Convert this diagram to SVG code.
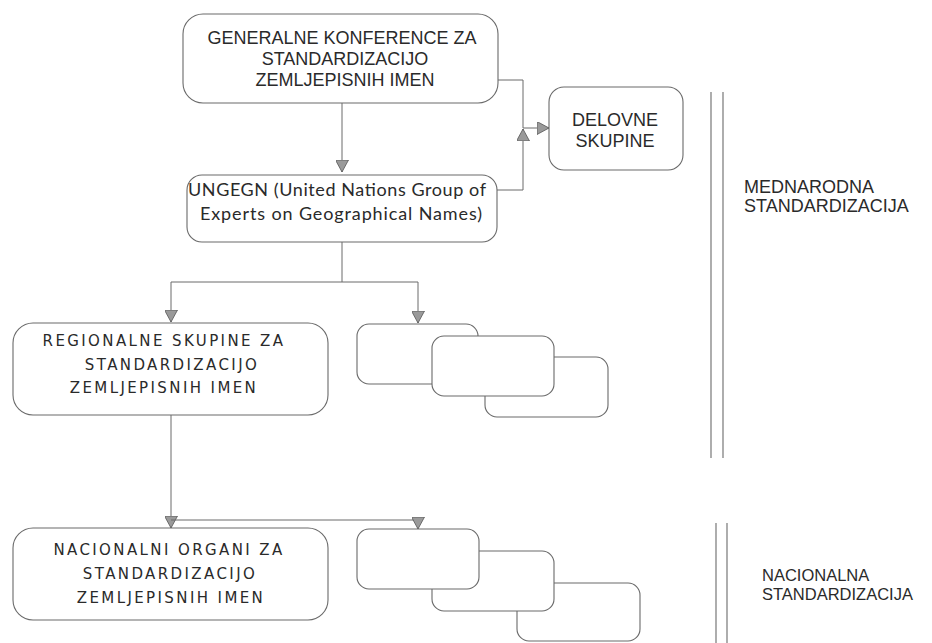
<svg xmlns="http://www.w3.org/2000/svg" width="932" height="643" viewBox="0 0 932 643">
<style>
.box{fill:#fff;stroke:#6a6a6a;stroke-width:1.1}
.ln{fill:none;stroke:#6a6a6a;stroke-width:1}
.sep{stroke:#777;stroke-width:1.2}
.t1{font-family:"Liberation Sans",Arial,sans-serif;font-size:18px;fill:#2a2a2a}
.t2{font-family:"DejaVu Sans",sans-serif;font-size:15px;fill:#2a2a2a;letter-spacing:2.4px;text-anchor:middle}
.t3{font-family:Lato,"DejaVu Sans",sans-serif;font-size:18px;fill:#2a2a2a}
.t4{font-family:"Liberation Sans",Arial,sans-serif;font-size:16.5px;fill:#2a2a2a}
</style>
<defs>
<marker id="arr" viewBox="0 0 12 13" refX="12" refY="6.5" markerWidth="12" markerHeight="13" markerUnits="userSpaceOnUse" orient="auto">
<path d="M0,0 L12,6.5 L0,13 z" fill="#9a9a9a" stroke="#555" stroke-width="0.8"/>
</marker>
</defs>
<rect width="932" height="643" fill="#fff"/>
<g id="connectors">
<path class="ln" d="M342,103 V172" marker-end="url(#arr)"/>
<path class="ln" d="M498,80 H523 V128 H549" marker-end="url(#arr)"/>
<path class="ln" d="M497,190 H523 V129" marker-end="url(#arr)"/>
<path class="ln" d="M342,241 V282 H171 V322" marker-end="url(#arr)"/>
<path class="ln" d="M342,282 H418 V323" marker-end="url(#arr)"/>
<path class="ln" d="M171,415 V528" marker-end="url(#arr)"/>
<path class="ln" d="M171,520 H418 V529" marker-end="url(#arr)"/>
</g>
<g id="generalne">
<rect class="box" x="183" y="14" width="315" height="89" rx="20"/>
<text class="t1" text-anchor="middle"><tspan x="342" y="44">GENERALNE KONFERENCE ZA</tspan><tspan x="345" y="65">STANDARDIZACIJO</tspan><tspan x="345" y="86">ZEMLJEPISNIH IMEN</tspan></text>
</g>
<g id="delovne">
<rect class="box" x="549" y="87" width="134" height="83" rx="15"/>
<text class="t1" text-anchor="middle"><tspan x="615" y="126">DELOVNE</tspan><tspan x="615" y="147">SKUPINE</tspan></text>
</g>
<g id="ungegn">
<rect class="box" x="187" y="175" width="310" height="67" rx="15"/>
<text class="t3"><tspan x="188" y="196" textLength="298" lengthAdjust="spacing">UNGEGN (United Nations Group of</tspan><tspan x="200" y="220" textLength="282" lengthAdjust="spacing">Experts on Geographical Names)</tspan></text>
</g>
<g id="regionalne">
<rect class="box" x="13" y="323" width="315" height="92" rx="20"/>
<text class="t2" x="164" y="346">REGIONALNE SKUPINE ZA</text>
<text class="t2" x="172" y="370">STANDARDIZACIJO</text>
<text class="t2" x="164" y="393">ZEMLJEPISNIH IMEN</text>
</g>
<g id="regional-stack">
<rect class="box" x="357" y="324" width="121" height="60" rx="12"/>
<rect class="box" x="485" y="357" width="123" height="60" rx="12"/>
<rect class="box" x="432" y="336" width="122" height="60" rx="12"/>
</g>
<g id="nacionalni">
<rect class="box" x="13" y="528" width="315" height="92" rx="20"/>
<text class="t2" x="169" y="555">NACIONALNI ORGANI ZA</text>
<text class="t2" x="170" y="579">STANDARDIZACIJO</text>
<text class="t2" x="171" y="603">ZEMLJEPISNIH IMEN</text>
</g>
<g id="national-stack">
<rect class="box" x="517" y="583" width="123" height="58" rx="12"/>
<rect class="box" x="432" y="551" width="122" height="60" rx="12"/>
<rect class="box" x="357" y="529" width="122" height="60" rx="12"/>
</g>
<g id="mednarodna">
<line class="sep" x1="711" y1="92" x2="711" y2="458"/>
<line class="sep" x1="723" y1="92" x2="723" y2="458"/>
<text class="t1"><tspan x="744" y="193">MEDNARODNA</tspan><tspan x="744" y="212">STANDARDIZACIJA</tspan></text>
</g>
<g id="nacionalna">
<line class="sep" x1="716" y1="523" x2="716" y2="643"/>
<line class="sep" x1="727" y1="523" x2="727" y2="643"/>
<text class="t4"><tspan x="762" y="581">NACIONALNA</tspan><tspan x="762" y="600">STANDARDIZACIJA</tspan></text>
</g>
</svg>
